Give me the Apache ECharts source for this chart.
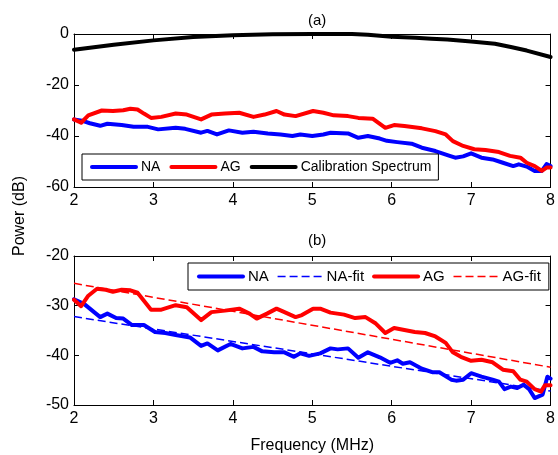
<!DOCTYPE html>
<html lang="en">
<head>
    <meta charset="UTF-8">
    <title>Power spectra</title>
    <script src="https://cdn.jsdelivr.net/npm/echarts@6/dist/echarts.min.js"></script>
    <style>
        html, body { margin: 0; padding: 0; background: #fff; }
        #main { width: 558px; height: 455px; }
    </style>
</head>
<body>
    <div id="main"></div>
    <script>
        // (a) raw spectra, [MHz, dB]
        var naA = [[2.0,-33.5],[2.1,-34],[2.2,-35],[2.33,-36],[2.42,-35.2],[2.6,-35.7],[2.75,-36.4],[2.93,-36.4],[3.06,-37.4],[3.28,-36.8],[3.4,-37.2],[3.6,-38.7],[3.68,-38],[3.8,-39.4],[3.95,-37.8],[4.12,-38.7],[4.26,-38.3],[4.44,-39],[4.6,-39.4],[4.75,-40],[4.85,-39.4],[5.0,-40],[5.14,-39.4],[5.23,-38.7],[5.45,-39],[5.58,-40.7],[5.7,-40],[5.85,-41],[5.94,-41.9],[6.07,-42.4],[6.25,-43],[6.38,-44.6],[6.55,-45.9],[6.73,-47.8],[6.8,-48.5],[6.9,-48],[7.0,-46.8],[7.13,-48.5],[7.27,-49.2],[7.4,-50.5],[7.53,-51.8],[7.6,-51.1],[7.7,-52],[7.8,-53.7],[7.89,-53.7],[7.95,-51],[8.0,-51.8]];
        var agA = [[2.0,-33.5],[2.09,-34.8],[2.18,-31.9],[2.35,-30],[2.49,-30.2],[2.62,-29.9],[2.71,-29.3],[2.8,-29.6],[2.88,-31.2],[2.97,-32.9],[3.1,-32.5],[3.28,-31.2],[3.42,-31.6],[3.6,-33.5],[3.73,-31.6],[3.9,-31.2],[4.08,-30.9],[4.26,-32.5],[4.4,-31.6],[4.55,-30.2],[4.65,-31.6],[4.79,-32.2],[5.01,-30.2],[5.14,-30.9],[5.27,-31.9],[5.45,-32.2],[5.58,-32.9],[5.76,-33.2],[5.92,-36.8],[6.03,-35.7],[6.16,-36.1],[6.38,-37],[6.55,-38.1],[6.68,-39.4],[6.77,-42],[6.9,-43.9],[7.04,-45.2],[7.18,-45.5],[7.35,-46.3],[7.49,-47.8],[7.62,-48.5],[7.7,-50.5],[7.8,-51.8],[7.89,-53.7],[7.95,-52.4],[8.0,-52.4]];
        var calA = [[2,-6.2],[2.5,-4.2],[3,-2.5],[3.5,-1.2],[4,-0.5],[4.5,-0.1],[5,0],[5.5,0],[5.7,-0.3],[6,-1.1],[6.3,-1.5],[6.5,-1.9],[6.7,-2.2],[7,-2.9],[7.3,-3.8],[7.5,-5.1],[7.7,-6.5],[8,-9]];

        // (b) corrected spectra and linear fits
        var naB = [[2.0,-28.7],[2.13,-29.7],[2.33,-32.3],[2.42,-31.6],[2.53,-32.5],[2.62,-32.6],[2.73,-33.9],[2.88,-33.9],[3.02,-35.3],[3.15,-35.5],[3.28,-35.9],[3.46,-36.4],[3.6,-38.1],[3.68,-37.6],[3.81,-39],[3.97,-37.7],[4.12,-38.6],[4.26,-38.3],[4.37,-39.2],[4.52,-39.4],[4.65,-39.4],[4.77,-40.3],[4.85,-39.6],[4.96,-40.1],[5.1,-39.6],[5.23,-38.6],[5.32,-38.8],[5.45,-38.6],[5.58,-40.5],[5.7,-39.4],[5.85,-40.4],[5.98,-41.5],[6.07,-41],[6.14,-41.7],[6.23,-41.4],[6.38,-42.7],[6.51,-43.4],[6.6,-43.4],[6.75,-44.9],[6.81,-45.1],[6.9,-44.9],[7.0,-43.6],[7.13,-44.3],[7.27,-44.9],[7.35,-45.3],[7.42,-46.8],[7.5,-46.3],[7.58,-46.6],[7.66,-45.9],[7.73,-46.8],[7.8,-48.6],[7.9,-47.9],[7.96,-44.3],[8.0,-44.7]];
        var agB = [[2.0,-28.8],[2.09,-30.1],[2.18,-28],[2.29,-26.6],[2.4,-26.8],[2.49,-27.2],[2.6,-26.8],[2.71,-26.9],[2.8,-27.4],[2.88,-29],[2.97,-30.8],[3.1,-30.8],[3.28,-29.9],[3.42,-30.3],[3.6,-32.9],[3.73,-31.3],[3.9,-31],[4.08,-30.6],[4.21,-31.6],[4.3,-32.6],[4.43,-31.6],[4.55,-30.6],[4.65,-31.3],[4.79,-32.3],[4.87,-31.9],[5.01,-30.6],[5.1,-30.6],[5.23,-31.4],[5.4,-31.8],[5.54,-32.5],[5.67,-32.3],[5.8,-33.6],[5.92,-35.5],[6.03,-34.5],[6.16,-34.9],[6.29,-35.3],[6.42,-35.5],[6.55,-36.2],[6.68,-37.5],[6.77,-39.4],[6.87,-40.3],[7.0,-41.1],[7.13,-40.9],[7.27,-41.4],[7.4,-42.9],[7.53,-43.2],[7.62,-44.9],[7.7,-45.3],[7.8,-46.8],[7.88,-47.3],[7.93,-46],[8.0,-46]];
        var naFit = [[2,-32.2],[8,-47.2]];
        var agFit = [[2,-25.5],[8,-42.4]];

        var FONT = "'Liberation Sans', Arial, Helvetica, sans-serif";

        function xAxis(grid, top, name) {
            return {
                type: 'value', gridIndex: grid, min: 2, max: 8, interval: 1,
                position: top ? 'top' : 'bottom',
                name: name || '', nameLocation: 'middle', nameGap: 33,
                nameTextStyle: { fontSize: 16, color: '#000', fontFamily: FONT },
                axisLine: { show: true, onZero: false, lineStyle: { color: '#000', width: 1 } },
                axisTick: { show: true, inside: true, length: 5, lineStyle: { color: '#000' } },
                axisLabel: { show: !top, fontSize: 16, color: '#000', fontFamily: FONT, margin: 6 },
                splitLine: { show: false }
            };
        }
        function yAxis(grid, right, min, max, step) {
            return {
                type: 'value', gridIndex: grid, min: min, max: max, interval: step,
                position: right ? 'right' : 'left',
                axisLine: { show: true, onZero: false, lineStyle: { color: '#000', width: 1 } },
                axisTick: { show: true, inside: true, length: 5, lineStyle: { color: '#000' } },
                axisLabel: { show: !right, fontSize: 16, color: '#000', fontFamily: FONT, margin: 5 },
                splitLine: { show: false }
            };
        }
        function line(name, data, color, xi, yi, thin) {
            return {
                name: name, type: 'line', data: data, xAxisIndex: xi, yAxisIndex: yi,
                symbol: 'none', showSymbol: false, animation: false,
                lineStyle: thin ? { color: color, width: 1.5, type: [8, 4] }
                                : { color: color, width: 4, join: 'round', cap: 'round' },
                itemStyle: { color: color }
            };
        }
        // legend entry: line only, no marker
        function entry(name, dashed) {
            return {
                name: name,
                itemStyle: { opacity: 0, borderWidth: 0 },
                lineStyle: dashed ? { width: 1.5, type: [8, 4] } : { width: 4 }
            };
        }

        var chart = echarts.init(document.getElementById('main'));
        var option = {
            animation: false,
            backgroundColor: '#fff',
            textStyle: { fontFamily: FONT },
            title: [
                { text: '(a)', left: 303, top: 8,
                  textStyle: { fontSize: 15, fontWeight: 'normal', color: '#000', fontFamily: FONT } },
                { text: '(b)', left: 303, top: 228,
                  textStyle: { fontSize: 15, fontWeight: 'normal', color: '#000', fontFamily: FONT } }
            ],
            grid: [
                { left: 74, top: 34, right: 2, height: 153 },
                { left: 74, top: 256, right: 2, height: 153 }
            ],
            legend: [
                {
                    left: 82, top: 154, itemWidth: 44, itemHeight: 14, itemGap: 9,
                    padding: [6, 7, 6, 8], borderColor: '#000', borderWidth: 1, backgroundColor: '#fff',
                    selectedMode: false,
                    textStyle: { fontSize: 14, color: '#000', fontFamily: FONT },
                    data: [entry('NA'), entry('AG'), entry('Calibration Spectrum')]
                },
                {
                    left: 188, top: 263, itemWidth: 44, itemHeight: 14, itemGap: 8,
                    padding: [6, 8, 6, 9], borderColor: '#000', borderWidth: 1, backgroundColor: '#fff',
                    selectedMode: false,
                    textStyle: { fontSize: 15, color: '#000', fontFamily: FONT },
                    data: [entry('NA'), entry('NA-fit', true), entry('AG'), entry('AG-fit', true)]
                }
            ],
            xAxis: [xAxis(0, false), xAxis(0, true), xAxis(1, false, 'Frequency (MHz)'), xAxis(1, true)],
            yAxis: [yAxis(0, false, -60, 0, 20), yAxis(0, true, -60, 0, 20), yAxis(1, false, -50, -20, 10), yAxis(1, true, -50, -20, 10)],
            graphic: [
                {
                    type: 'text', x: 20, y: 216, rotation: Math.PI / 2,
                    style: { text: 'Power (dB)', font: '16px ' + FONT, fill: '#000',
                             align: 'center', verticalAlign: 'middle',
                             textAlign: 'center', textVerticalAlign: 'middle' }
                }
            ],
            series: [
                line('NA', naA, '#0000ff', 0, 0),
                line('AG', agA, '#ff0000', 0, 0),
                line('Calibration Spectrum', calA, '#000000', 0, 0),
                line('NA', naB, '#0000ff', 2, 2),
                line('NA-fit', naFit, '#0000ff', 2, 2, true),
                line('AG', agB, '#ff0000', 2, 2),
                line('AG-fit', agFit, '#ff0000', 2, 2, true)
            ]
        };
        chart.setOption(option);
    </script>
</body>
</html>
